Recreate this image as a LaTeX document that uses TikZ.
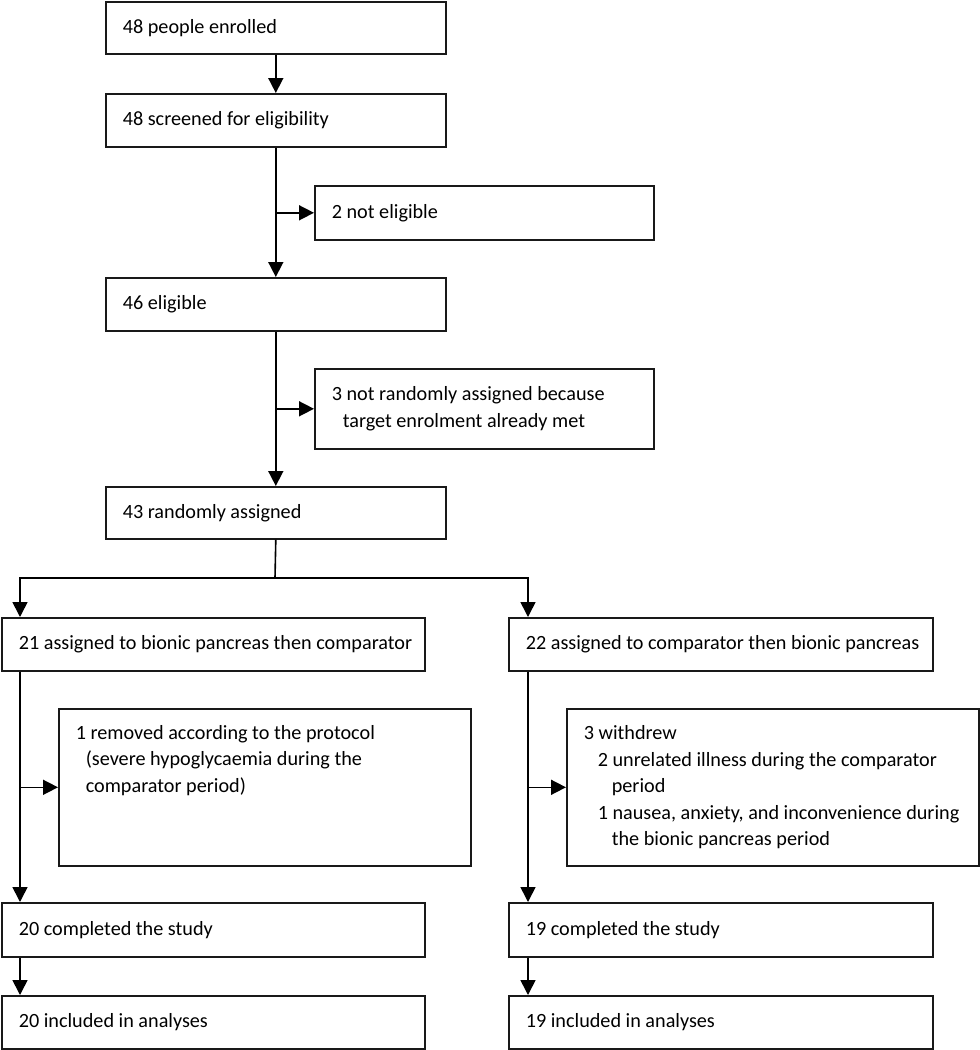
\documentclass[tikz,border=0pt]{standalone}
\usepackage{fontspec}
\setmainfont{Carlito}
\usetikzlibrary{arrows.meta,calc}
\tikzset{
  box/.style={draw=black!90, line width=1.6pt, anchor=north west,
    inner xsep=17pt, inner ysep=0pt, font=\fontsize{20.2}{26.5}\selectfont},
  arr/.style={line width=1.6pt, -{Triangle[length=15pt,width=15pt]}},
  ln/.style={line width=1.6pt}
}
\newcommand{\lines}[1]{\begin{tabular}{@{}l@{}}#1\end{tabular}}
\newcommand{\bx}[6]{% name, x, y, w, h, text
  \node[box, minimum width=#4pt, minimum height=#5pt] (#1) at (#2,#3)
    {\makebox[\dimexpr#4pt-34pt\relax][l]{\lines{#6}}};}
\begin{document}
\begin{tikzpicture}[x=1pt,y=-1pt]
\useasboundingbox (0,0) rectangle (980,1050);
\bx{b1}{105}{1}{340}{52}{48 people enrolled}
\bx{b2}{105}{93}{340}{53}{48 screened for eligibility}
\bx{b3}{314}{185}{339}{54}{2 not eligible}
\bx{b4}{105}{277}{340}{53}{46 eligible}
\bx{b5}{314}{368}{339}{80}{3 not randomly assigned because\\\hspace*{11pt}target enrolment already met}
\bx{b6}{105}{486}{340}{52}{43 randomly assigned}
\bx{b7}{1}{617}{423}{53}{21 assigned to bionic pancreas then comparator}
\bx{b8}{508}{617}{424}{53}{22 assigned to comparator then bionic pancreas}
\node[box, minimum width=412pt, minimum height=157pt] (b9) at (58,708)
  {\parbox[c][133pt][t]{378pt}{\lines{1 removed according to the protocol\\\hspace*{10pt}(severe hypoglycaemia during the\\\hspace*{10pt}comparator period)}}};
\bx{b10}{566}{708}{412}{157}{3 withdrew\\\hspace*{14pt}2 unrelated illness during the comparator\\\hspace*{28pt}period\\\hspace*{14pt}1 nausea, anxiety, and inconvenience during\\\hspace*{28pt}the bionic pancreas period}
\bx{b11}{1}{902}{423}{54}{20 completed the study}
\bx{b12}{508}{902}{424}{54}{19 completed the study}
\bx{b13}{1}{995}{423}{53}{20 included in analyses}
\bx{b14}{508}{995}{424}{53}{19 included in analyses}

\coordinate (sp) at (275,578);
\coordinate (L) at (20,578);
\coordinate (R) at (528,578);

\draw[arr] (b1.south) -- (b2.north);
\draw[arr] (b2.south) -- (b4.north);
\draw[arr] (b2.south |- b3.west) -- (b3.west);
\draw[arr] (b4.south) -- (b6.north);
\draw[arr] (b4.south |- b5.west) -- (b5.west);
\draw[ln] (b6.south) -- (sp);
\draw[arr] (sp) -- (L) -- (L |- b7.north);
\draw[arr] (sp) -- (R) -- (R |- b8.north);
\draw[arr] (L |- b7.south) -- (L |- b11.north);
\draw[arr] (L |- b9.west) -- (b9.west);
\draw[arr] (R |- b8.south) -- (R |- b12.north);
\draw[arr] (R |- b10.west) -- (b10.west);
\draw[arr] (L |- b11.south) -- (L |- b13.north);
\draw[arr] (R |- b12.south) -- (R |- b14.north);
\end{tikzpicture}
\end{document}
